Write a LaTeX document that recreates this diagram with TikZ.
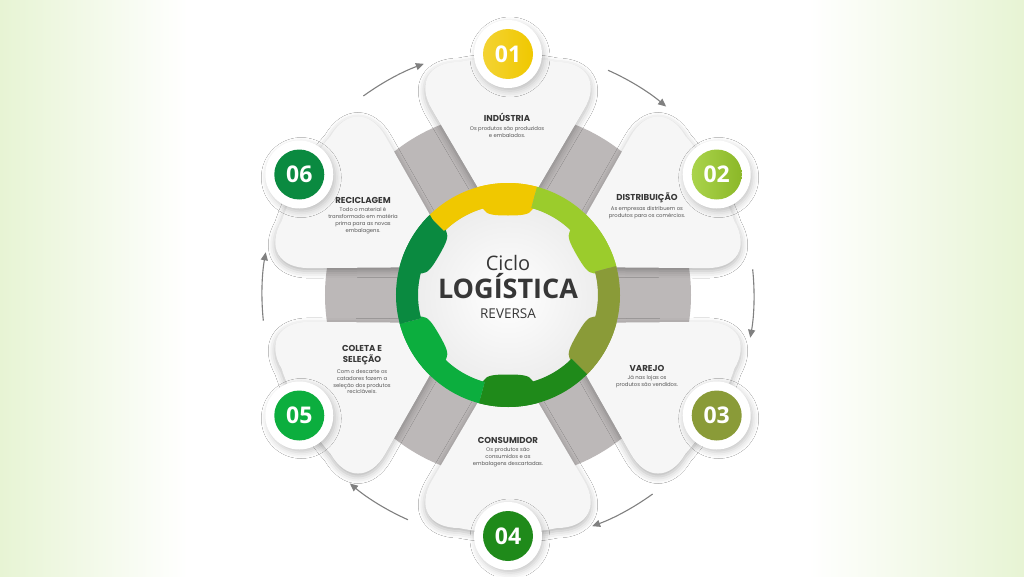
\documentclass[tikz,border=0pt]{standalone}
\usepackage{fontspec}
\setmainfont{Open Sans}
\newfontfamily\popfont{Poppins}
\usetikzlibrary{arrows.meta,positioning,shadows.blur}
\definecolor{cyel}{RGB}{240,200,0}
\definecolor{clime}{RGB}{155,204,44}
\definecolor{colive}{RGB}{138,155,56}
\definecolor{cdark}{RGB}{31,138,26}
\definecolor{cgreen}{RGB}{12,174,62}
\definecolor{cforest}{RGB}{10,138,64}
\definecolor{bgreen}{RGB}{231,244,212}
\definecolor{diskdark}{RGB}{188,184,184}
\definecolor{disklight}{RGB}{214,211,211}
\definecolor{petalfill}{RGB}{246,246,246}
\definecolor{ink}{RGB}{55,55,55}
\definecolor{arrowgray}{RGB}{128,128,128}
\pgfdeclareradialshading{diskshade}{\pgfpoint{0bp}{0bp}}{color(0bp)=(diskdark); color(30bp)=(diskdark); color(50bp)=(disklight)}
% one petal, pointing outwards along +y, tip towards the centre
\newcommand\petalpath{(22.3,94) -- (76.1,185.6) .. controls (91.4,211.7) and (79.3,233) .. (49,233)
  .. controls (22,239) and (-22,239) .. (-49,233)
  .. controls (-79.3,233) and (-91.4,211.7) .. (-76.1,185.6) -- (-22.3,94)
  .. controls (-12.7,77.6) and (12.7,77.6) .. cycle}
% the rounded tab that reaches into the inner disc
\newcommand\tabpath{(-36,93) .. controls (-28,91) and (-26,88) .. (-24,85)
  .. controls (-21,80.5) and (-15,79.5) .. (0,79.5) .. controls (15,79.5) and (21,80.5) .. (24,85)
  .. controls (26,88) and (28,91) .. (36,93) -- (36,100) -- (-36,100) -- cycle}
\begin{document}
\begin{tikzpicture}[x=1pt,y=1pt,
  ptitle/.style={font=\popfont\bfseries\fontsize{8.6}{11}\selectfont,text=ink,align=center,inner sep=0pt},
  pbody/.style={font=\popfont\fontsize{5.3}{6.8}\selectfont,text=ink!85,align=center,inner sep=0pt},
  ctext/.style={text=ink,inner sep=0pt,anchor=base},
  numring/.style={circle,fill=white,minimum size=68pt,inner sep=0pt,blur shadow={shadow xshift=2pt,shadow yshift=-3pt,shadow blur radius=6pt,shadow opacity=22}},
  numdot/.style={circle,minimum size=50pt,inner sep=0pt,text=white,font=\bfseries\fontsize{23}{23}\selectfont},
  cyc/.style={-{Triangle[length=8pt,width=7pt]},draw=arrowgray,line width=1.1pt}]
  \useasboundingbox (-508,-281) rectangle (516,295);
  \fill[white] (-508,-281) rectangle (516,295);
  \shade[left color=bgreen,right color=white] (-508,-281) rectangle (-320,295);
  \shade[left color=white,right color=bgreen] (300,-281) rectangle (516,295);
  \shade[shading=diskshade] (0,0) circle (183);
  % petals
  \foreach \ang in {90,30,-30,-90,210,150}{
    \begin{scope}[rotate=\ang-90]
      \fill[petalfill,blur shadow={shadow xshift=0pt,shadow yshift=-3pt,shadow blur radius=7pt,shadow opacity=30}] \petalpath;
    \end{scope}
  }
  \shade[inner color=white,outer color=black!7] (0,0) circle (90);
  % ring and tabs
  \foreach \ang/\col in {90/cyel,30/clime,-30/colive,-90/cdark,210/cgreen,150/cforest}{
    \fill[\col] ({\ang+45}:112) arc[start angle=\ang+45,end angle=\ang-15,radius=112]
      -- ({\ang-15}:90) arc[start angle=\ang-15,end angle=\ang+45,radius=90] -- cycle;
    \begin{scope}
      \clip (0,0) circle (112);
      \fill[\col,rotate=\ang-90] \petalpath;
    \end{scope}
    \begin{scope}
      \clip (0,0) circle (90.5);
      \fill[\col,rotate=\ang-90] \tabpath;
    \end{scope}
  }
  % centre
  \node[ctext,font=\fontsize{20}{20}\selectfont] (c1) at (0,25) {Ciclo};
  \node[ctext,font=\bfseries\fontsize{27}{27}\selectfont] (c2) at (0,-3) {LOGÍSTICA};
  \node[ctext,font=\fontsize{13.5}{13.5}\selectfont] (c3) at (0,-23) {REVERSA};
  % numbers
  \node[numring] (r1) at (90:241) {};
  \node[numdot,left color=cyel!80!white,right color=cyel] (n1) at (r1) {01};
  \node[numring] (r2) at (30:241) {};
  \node[numdot,left color=clime!85!white,right color=clime!90!black] (n2) at (r2) {02};
  \node[numring] (r3) at (-30:241) {};
  \node[numdot,fill=colive] (n3) at (r3) {03};
  \node[numring] (r4) at (-90:241) {};
  \node[numdot,fill=cdark] (n4) at (r4) {04};
  \node[numring] (r5) at (210:241) {};
  \node[numdot,fill=cgreen] (n5) at (r5) {05};
  \node[numring] (r6) at (150:241) {};
  \node[numdot,fill=cforest] (n6) at (r6) {06};
  % texts
  \node[ptitle] (t1) at (-1,178) {INDÚSTRIA};
  \node[pbody,below=5pt of t1] (b1) {Os produtos são produzidos\\e embalados.};
  \node[ptitle] (t2) at (139,97.5) {DISTRIBUIÇÃO};
  \node[pbody,below=4pt of t2] (b2) {As empresas distribuem os\\produtos para os comércios.};
  \node[ptitle] (t3) at (139,-73) {VAREJO};
  \node[pbody,below=4pt of t3] (b3) {Já nas lojas os\\produtos são vendidos.};
  \node[ptitle] (t4) at (0,-145) {CONSUMIDOR};
  \node[pbody,below=4pt of t4] (b4) {Os produtos são\\consumidos e as\\embalagens descartadas.};
  \node[ptitle] (t5) at (-146,-60.5) {COLETA E\\SELEÇÃO};
  \node[pbody,below=4pt of t5] (b5) {Com o descarte os\\catadores fazem a\\seleção dos produtos\\recicláveis.};
  \node[ptitle] (t6) at (-145,95) {RECICLAGEM};
  \node[pbody,below=4pt of t6] (b6) {Todo o material é\\transformado em matéria\\prima para as novas\\embalagens.};
  % cycle arrows
  \coordinate (a1) at (126:246);
  \coordinate (a2) at (66:246);
  \coordinate (a3) at (6:246);
  \coordinate (a4) at (-54:246);
  \coordinate (a5) at (246:246);
  \coordinate (a6) at (186:246);
  \draw[cyc] (a1) arc[start angle=126,end angle=110,radius=246];
  \draw[cyc] (a2) arc[start angle=66,end angle=50,radius=246];
  \draw[cyc] (a3) arc[start angle=6,end angle=-10,radius=246];
  \draw[cyc] (a4) arc[start angle=-54,end angle=-70,radius=246];
  \draw[cyc] (a5) arc[start angle=246,end angle=230,radius=246];
  \draw[cyc] (a6) arc[start angle=186,end angle=170,radius=246];
\end{tikzpicture}
\end{document}
